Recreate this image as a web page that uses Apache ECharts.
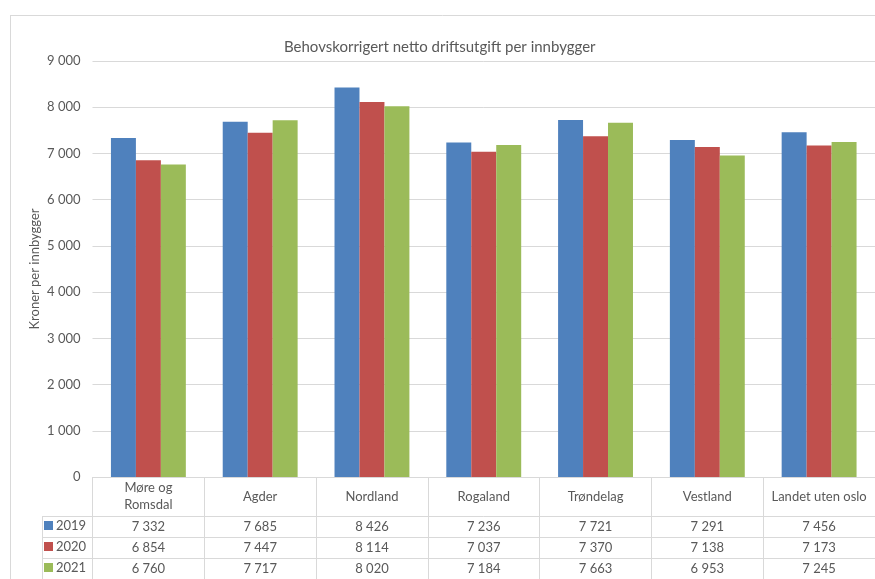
<!DOCTYPE html>
<html>
<head>
<meta charset="utf-8">
<script src="https://cdn.jsdelivr.net/npm/echarts@6/dist/echarts.min.js"></script>
<style>html,body{margin:0;padding:0;background:#fff}#c{width:875px;height:579px}</style>
</head>
<body>
<div id="c"></div>
<script>
const titleText = 'Behovskorrigert netto driftsutgift per innbygger';
const yAxisName = 'Kroner per innbygger';
const categories = ['Møre og\nRomsdal', 'Agder', 'Nordland', 'Rogaland', 'Trøndelag', 'Vestland', 'Landet uten oslo'];
const seriesNames = ['2019', '2020', '2021'];
const values2019 = [7332, 7685, 8426, 7236, 7721, 7291, 7456];
const values2020 = [6854, 7447, 8114, 7037, 7370, 7138, 7173];
const values2021 = [6760, 7717, 8020, 7184, 7663, 6953, 7245];
const yTicks = [0, 1000, 2000, 3000, 4000, 5000, 6000, 7000, 8000, 9000];
const colors = ['#4F81BD', '#C0504D', '#9BBB59'];
const allValues = [values2019, values2020, values2021];

const FONT = 'Lato';
const TXT = '#595959';
const LINE = '#d9d9d9';
const gridLeft = 92.5, gridTop = 61, gridW = 784, gridH = 416;
const headerH = 39, rowH = 21;
const legendLeft = 42;

function fmt(v) { return String(v).replace(/\B(?=(\d{3})+(?!\d))/g, ' '); }

const xAxes = [{
  type: 'category', data: categories, gridIndex: 0, position: 'bottom',
  axisLine: { show: true, lineStyle: { color: LINE, width: 1 } },
  axisTick: { show: true, length: headerH + 3 * rowH, lineStyle: { color: LINE } },
  axisLabel: { interval: 0, margin: headerH / 2, verticalAlign: 'middle', lineHeight: 17,
               fontFamily: FONT, fontSize: 13, color: TXT }
}];
allValues.forEach((arr, k) => {
  xAxes.push({
    type: 'category', data: categories, gridIndex: 0, position: 'bottom',
    offset: headerH + k * rowH,
    axisLine: { show: true, lineStyle: { color: LINE, width: 1 } },
    axisTick: { show: false },
    axisLabel: { interval: 0, margin: rowH / 2, verticalAlign: 'middle',
                 fontFamily: FONT, fontSize: 13, color: TXT,
                 formatter: (v, i) => fmt(arr[i]) }
  });
});

const legends = seriesNames.map((n, k) => ({
  data: [n], left: legendLeft + 2, top: gridTop + gridH + headerH + k * rowH + 3,
  padding: 0,
  icon: 'rect', itemWidth: 9, itemHeight: 9, itemGap: 0, selectedMode: false,
  textStyle: { fontFamily: FONT, fontSize: 13, color: TXT, padding: [0, 0, 0, -2] }
}));

const graphics = [
  { type: 'line', shape: { x1: 10, y1: 15.5, x2: 875, y2: 15.5 }, style: { stroke: LINE, lineWidth: 1 } },
  { type: 'line', shape: { x1: 10.5, y1: 15, x2: 10.5, y2: 579 }, style: { stroke: LINE, lineWidth: 1 } },
  { type: 'line', shape: { x1: legendLeft + 0.5, y1: gridTop + gridH + headerH, x2: legendLeft + 0.5, y2: 579 }, style: { stroke: LINE, lineWidth: 1 } }
];
for (let k = 0; k < 3; k++) {
  const y = gridTop + gridH + headerH + k * rowH + 0.5;
  graphics.push({ type: 'line', shape: { x1: legendLeft, y1: y, x2: gridLeft, y2: y }, style: { stroke: LINE, lineWidth: 1 } });
}

const option = {
  animation: false,
  backgroundColor: '#fff',
  title: { text: titleText, left: 279, top: 35,
           textStyle: { fontFamily: FONT, fontSize: 15, fontWeight: 'normal', color: TXT } },
  legend: legends,
  grid: { left: gridLeft, top: gridTop, width: gridW, height: gridH, containLabel: false },
  xAxis: xAxes,
  yAxis: {
    type: 'value', min: yTicks[0], max: yTicks[yTicks.length - 1], interval: yTicks[1] - yTicks[0],
    name: yAxisName, nameLocation: 'middle', nameGap: 51, nameRotate: 90, nameMoveOverlap: false,
    nameTextStyle: { fontFamily: FONT, fontSize: 13, color: TXT },
    axisLine: { show: false }, axisTick: { show: false },
    splitLine: { lineStyle: { color: LINE, width: 1 } },
    axisLabel: { margin: 12, fontFamily: FONT, fontSize: 13, color: TXT, formatter: v => fmt(v) }
  },
  series: seriesNames.map((n, k) => ({
    name: n, type: 'bar', xAxisIndex: 0, data: allValues[k],
    itemStyle: { color: colors[k] }, barGap: '0%', barCategoryGap: '33%'
  })),
  graphic: graphics
};
const chart = echarts.init(document.getElementById('c'), null, { renderer: 'canvas' });
chart.setOption(option);
</script>
</body>
</html>
